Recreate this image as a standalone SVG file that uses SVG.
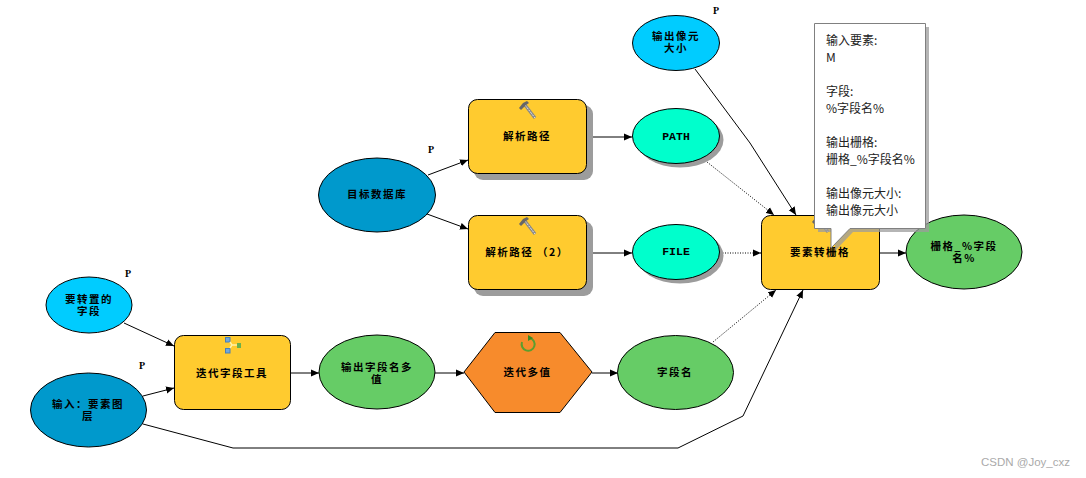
<svg xmlns="http://www.w3.org/2000/svg" width="1086" height="478" viewBox="0 0 1086 478">
<style>
.n{stroke:#000;stroke-width:1}
.s{fill:#9c9c9c}
.y{fill:#ffcb2f}
.b{fill:#00ccff}
.d{fill:#0099cc}
.g{fill:#66cc66}
.c{fill:#00ffcc}
.o{fill:#f78b2c}
.t{font-family:"Noto Sans CJK SC","Liberation Sans",sans-serif;font-size:10.500px;font-weight:700;letter-spacing:1.500px;text-anchor:middle;fill:#000}
.m{font-family:"Liberation Mono","Noto Sans CJK SC",monospace;font-size:11.500px;letter-spacing:0}
.p{font-family:"Liberation Serif",serif;font-size:10px;font-weight:700;fill:#000;text-anchor:middle}
.l{fill:none;stroke:#000;stroke-width:1}
.dot{stroke-dasharray:1 1.5}
.k{font-family:"Noto Sans CJK SC","Liberation Sans",sans-serif;font-size:12px;fill:#222}
</style>
<defs>
<marker id="a" markerUnits="userSpaceOnUse" markerWidth="9" markerHeight="8" refX="8" refY="4" orient="auto"><path d="M0 0.500L8 4L0 7.500Z" fill="#000"/></marker>
<g id="hammer"><path d="M-1 -3L9 10" stroke="#888" stroke-width="3"/><path d="M-1 -3L9 10" stroke="#e4e4e4" stroke-width="1" stroke-dasharray="2 1"/><path d="M-7 0L-3 -5L1 -7L3 -5L0 -3L-5 2Z" fill="#666"/></g>
</defs>
<g id="connectors">
<path class="l" marker-end="url(#a)" d="M124 323L174 346"/>
<path class="l" marker-end="url(#a)" d="M143 396L174 388"/>
<path class="l" marker-end="url(#a)" d="M143 424L233 448L678 448L743 416L803 290"/>
<path class="l" marker-end="url(#a)" d="M290 373L319 373"/>
<path class="l" marker-end="url(#a)" d="M435 373L464 373"/>
<path class="l" marker-end="url(#a)" d="M592 373L618 373"/>
<path class="l" marker-end="url(#a)" d="M428 175L468 160"/>
<path class="l" marker-end="url(#a)" d="M427 214L468 229"/>
<path class="l" marker-end="url(#a)" d="M587 137L632 137"/>
<path class="l" marker-end="url(#a)" d="M587 253L632 253"/>
<path class="l dot" marker-end="url(#a)" d="M707 162L774 215"/>
<path class="l" marker-end="url(#a)" d="M695 69L750 143L796 215"/>
<path class="l dot" marker-end="url(#a)" d="M720 253L761 253"/>
<path class="l dot" marker-end="url(#a)" d="M713 342L776 290"/>
<path class="l" marker-end="url(#a)" d="M879 253L906 253"/>
</g>
<g id="n-field-param"><ellipse class="n b" cx="89" cy="305" rx="43" ry="28"/><text class="t" y="302.500"><tspan x="89">要转置的</tspan><tspan x="89" dy="12">字段</tspan></text><text class="p" x="128" y="277">P</text></g>
<g id="n-input"><ellipse class="n d" cx="88.500" cy="410" rx="58" ry="37"/><text class="t" y="407.500"><tspan x="88">输入：要素图</tspan><tspan x="88" dy="12">层</tspan></text><text class="p" x="142" y="369">P</text></g>
<g id="n-iter-field"><rect class="n y" x="174.500" y="335.500" width="116" height="74" rx="9"/>
<g><rect x="225.500" y="337.500" width="4.500" height="4.500" fill="#6fa8dc" stroke="#4a7fb5"/><rect x="225.500" y="348.500" width="4.500" height="4.500" fill="#6fa8dc" stroke="#4a7fb5"/><path d="M230 342L232 345L230 348M232 345H237" fill="none" stroke="#fff2a8" stroke-width="1.500"/><rect x="237" y="343" width="4" height="5" fill="#6ab04c"/></g>
<text class="t" x="232" y="376.500">迭代字段工具</text></g>
<g id="n-out-values"><ellipse class="n g" cx="377" cy="372" rx="58" ry="37"/><text class="t" y="370.500"><tspan x="377">输出字段名多</tspan><tspan x="377" dy="12">值</tspan></text></g>
<g id="n-iter-values"><path class="n o" d="M464 372L495 332.500H560L592 372L560 412.500H495Z"/><path d="M530 338A6.500 6.500 0 1 1 522 342" fill="none" stroke="#5c9e2e" stroke-width="2"/><path d="M528 335V341L533 338Z" fill="#3f8a1f"/><text class="t" x="527.500" y="376">迭代多值</text></g>
<g id="n-field-name"><ellipse class="n g" cx="675.500" cy="372.500" rx="58" ry="37"/><text class="t" x="675" y="376">字段名</text></g>
<g id="n-target"><ellipse class="n d" cx="377" cy="195" rx="58.500" ry="37"/><text class="t" x="377" y="198">目标数据库</text><text class="p" x="431" y="153">P</text></g>
<g id="n-parse1"><rect class="s" x="474" y="105" width="119" height="75" rx="9"/><rect class="n y" x="468.500" y="99.500" width="118" height="74" rx="9"/><use href="#hammer" x="526" y="108"/><text class="t" x="527" y="140">解析路径</text></g>
<g id="n-parse2"><rect class="s" x="474" y="221" width="119" height="75" rx="9"/><rect class="n y" x="468.500" y="215.500" width="118" height="74" rx="9"/><use href="#hammer" x="526" y="224"/><text class="t" x="527" y="256">解析路径 （2）</text></g>
<g id="n-path"><ellipse class="s" cx="680" cy="140" rx="43.500" ry="27.500"/><ellipse class="n c" cx="676" cy="136" rx="43.500" ry="27.500"/><text class="t m" x="676" y="140">PATH</text></g>
<g id="n-file"><ellipse class="s" cx="680" cy="256" rx="43.500" ry="27.500"/><ellipse class="n c" cx="676" cy="252" rx="43.500" ry="27.500"/><text class="t m" x="676" y="255">FILE</text></g>
<g id="n-cell"><ellipse class="n b" cx="676" cy="43" rx="43.500" ry="27.500"/><text class="t" y="39.500"><tspan x="676">输出像元</tspan><tspan x="676" dy="12">大小</tspan></text><text class="p" x="716" y="14">P</text></g>
<g id="n-raster-tool"><rect class="n y" x="761.500" y="215.500" width="118" height="74" rx="9"/><use href="#hammer" x="819" y="222"/><text class="t" x="820" y="256">要素转栅格</text></g>
<g id="n-raster-out"><ellipse class="n g" cx="964" cy="252" rx="58" ry="37"/><text class="t" y="249.500"><tspan x="964">栅格_%字段</tspan><tspan x="964" dy="12">名%</tspan></text></g>
<g id="n-callout">
<path class="s" d="M818 27H929V232H853L835 251V232H818Z" opacity=".75"/>
<path d="M814.500 23.500H925.500V228.500H850L831 248V228.500H814.500Z" fill="#fff" stroke="#808080"/>
<text class="k"><tspan x="826" y="45">输入要素:</tspan><tspan x="826" y="62">M</tspan><tspan x="826" y="96">字段:</tspan><tspan x="826" y="113">%字段名%</tspan><tspan x="826" y="147">输出栅格:</tspan><tspan x="826" y="164">栅格_%字段名%</tspan><tspan x="826" y="198">输出像元大小:</tspan><tspan x="826" y="215">输出像元大小</tspan></text>
</g>
<text x="1070" y="466" text-anchor="end" font-family="Liberation Sans,sans-serif" font-size="11.500" fill="#aaa">CSDN @Joy_cxz</text>
</svg>
